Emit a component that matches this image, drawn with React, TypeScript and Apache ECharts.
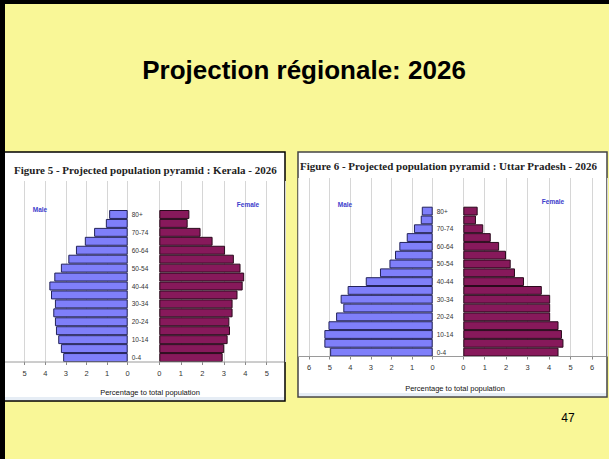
import React, { useEffect, useRef } from 'react';
import * as echarts from 'echarts';

const ageGroups = ['0-4', '5-9', '10-14', '15-19', '20-24', '25-29', '30-34', '35-39', '40-44', '45-49', '50-54', '55-59', '60-64', '65-69', '70-74', '75-79', '80+'];

const keralaMale = [3.13, 3.24, 3.37, 3.48, 3.53, 3.61, 3.53, 3.72, 3.8, 3.56, 3.24, 2.88, 2.51, 2.08, 1.63, 1.06, 0.9];
const keralaFemale = [2.95, 3.02, 3.18, 3.29, 3.26, 3.41, 3.41, 3.64, 3.88, 3.95, 3.78, 3.47, 3.06, 2.48, 1.92, 1.32, 1.4];

const upMale = [4.98, 5.26, 5.26, 5.06, 4.69, 4.34, 4.47, 4.13, 3.25, 2.56, 2.1, 1.83, 1.62, 1.26, 0.91, 0.58, 0.53];
const upFemale = [4.44, 4.67, 4.6, 4.44, 4.05, 4.05, 4.05, 3.66, 2.83, 2.41, 2.21, 1.99, 1.67, 1.28, 0.93, 0.59, 0.67];

const slideTitle = 'Projection régionale: 2026';
const figTitles = [
  'Figure 5 - Projected population pyramid : Kerala - 2026',
  'Figure 6 - Projected population pyramid : Uttar Pradesh - 2026',
];
const xAxisName = 'Percentage to total population';
const pageNumber = '47';

const SANS = '"Liberation Sans", Arial, sans-serif';
const SERIF = '"Liberation Serif", "Times New Roman", serif';
const MALE_COLOR = '#7f7ffa';
const FEMALE_COLOR = '#87195b';

type Layout = {
  panelX: number; panelY: number; panelW: number; panelH: number; panelStroke: string;
  maleLeft: number; zeroM: number; zeroF: number; right: number;
  maleMax: number; femaleMax: number;
  gridTop: number; barTop: number; axisY: number;
  titleX: number; titleY: number;
  maleLbl: [number, number]; femaleLbl: [number, number];
  nameY: number; nameX: number;
};

const layouts: Layout[] = [
  {
    panelX: 4, panelY: 152, panelW: 281, panelH: 249, panelStroke: '#000',
    maleLeft: 4, zeroM: 127.7, zeroF: 159.3, right: 285,
    maleMax: 6, femaleMax: 5.85,
    gridTop: 181, barTop: 210, axisY: 362,
    titleX: 14, titleY: 170,
    maleLbl: [40, 209], femaleLbl: [248, 204],
    nameY: 392, nameX: 150,
  },
  {
    panelX: 298, panelY: 152, panelW: 309, panelH: 245, panelStroke: '#444',
    maleLeft: 298, zeroM: 432.7, zeroF: 463.3, right: 607,
    maleMax: 6.54, femaleMax: 6.7,
    gridTop: 178, barTop: 206.7, axisY: 356.5,
    titleX: 300, titleY: 166,
    maleLbl: [345, 204], femaleLbl: [553, 201],
    nameY: 388, nameX: 455,
  },
];

const dataSets = [
  { male: keralaMale, female: keralaFemale },
  { male: upMale, female: upFemale },
];

function buildOption() {
  const grid: any[] = [];
  const xAxis: any[] = [];
  const yAxis: any[] = [];
  const series: any[] = [];
  const graphic: any[] = [];

  graphic.push({ type: 'rect', shape: { x: 0, y: 0, width: 5, height: 459 }, style: { fill: '#000' }, z: 200 });
  graphic.push({ type: 'rect', shape: { x: 0, y: 0, width: 609, height: 4 }, style: { fill: '#000' }, z: 200 });
  graphic.push({
    type: 'text', x: 304, y: 70, z: 100,
    style: { text: slideTitle, font: `bold 26px ${SANS}`, fill: '#000', align: 'center', verticalAlign: 'middle' },
  });
  graphic.push({
    type: 'text', x: 568, y: 418, z: 100,
    style: { text: pageNumber, font: `12px ${SANS}`, fill: '#000', align: 'center', verticalAlign: 'middle' },
  });

  layouts.forEach((L, i) => {
    const d = dataSets[i];
    graphic.push({
      type: 'rect', z: -10,
      shape: { x: L.panelX, y: L.panelY, width: L.panelW, height: L.panelH },
      style: { fill: '#fff', stroke: L.panelStroke, lineWidth: 1.5 },
    });
    graphic.push({
      type: 'rect', z: -9,
      shape: { x: L.panelX + 1, y: L.panelY + L.panelH - 4, width: L.panelW - 2, height: 3 },
      style: { fill: '#e6edf5' },
    });
    graphic.push({
      type: 'text', x: L.titleX, y: L.titleY, z: 100,
      style: { text: figTitles[i], font: `bold 11px ${SERIF}`, fill: '#222', align: 'left', verticalAlign: 'middle' },
    });
    graphic.push({
      type: 'text', x: L.maleLbl[0], y: L.maleLbl[1], z: 100,
      style: { text: 'Male', font: `bold 6.5px ${SANS}`, fill: '#3d3dcc', align: 'center', verticalAlign: 'middle' },
    });
    graphic.push({
      type: 'text', x: L.femaleLbl[0], y: L.femaleLbl[1], z: 100,
      style: { text: 'Female', font: `bold 6.5px ${SANS}`, fill: '#3d3dcc', align: 'center', verticalAlign: 'middle' },
    });
    graphic.push({
      type: 'text', x: L.nameX, y: L.nameY, z: 100,
      style: { text: xAxisName, font: `7.5px ${SANS}`, fill: '#111', align: 'center', verticalAlign: 'middle' },
    });
    graphic.push({
      type: 'line', z: 50,
      shape: { x1: L.panelX + 1, y1: L.axisY, x2: L.panelX + L.panelW - 1, y2: L.axisY },
      style: { stroke: '#9a9a9a', lineWidth: 1 },
    });

    const sides = [
      { left: L.maleLeft, width: L.zeroM - L.maleLeft, max: L.maleMax, inverse: true, values: d.male, color: MALE_COLOR, border: '#23235a' },
      { left: L.zeroF, width: L.right - L.zeroF, max: L.femaleMax, inverse: false, values: d.female, color: FEMALE_COLOR, border: '#2a0a1c' },
    ];
    sides.forEach((s, j) => {
      const ga = grid.length;
      grid.push({ left: s.left, top: L.gridTop, width: s.width, height: L.axisY - L.gridTop, containLabel: false });
      xAxis.push({
        gridIndex: ga, type: 'value', min: 0, max: s.max, interval: 1, inverse: s.inverse,
        axisLine: { show: false },
        axisTick: { show: true, length: 3, lineStyle: { color: '#888' } },
        axisLabel: { fontSize: 7.5, color: '#333', margin: 7, showMaxLabel: false, fontFamily: SANS },
        splitLine: { show: true, lineStyle: { color: '#d6d6d6', width: 1 } },
      });
      yAxis.push({ gridIndex: ga, type: 'value', show: false });
      const gb = grid.length;
      grid.push({ left: s.left, top: L.barTop, width: s.width, height: L.axisY - L.barTop, containLabel: false });
      xAxis.push({ gridIndex: gb, type: 'value', min: 0, max: s.max, inverse: s.inverse, show: false });
      yAxis.push({
        gridIndex: gb, type: 'category', data: ageGroups,
        show: j === 1,
        axisLine: { show: false }, axisTick: { show: false }, splitLine: { show: false },
        axisLabel: { show: j === 1, align: 'left', margin: L.zeroF - (L.zeroM + 4), fontSize: 6.5, color: '#333', interval: 1, fontFamily: SANS },
      });
      series.push({
        type: 'bar', xAxisIndex: gb, yAxisIndex: gb, data: s.values,
        barCategoryGap: '0%', silent: true,
        itemStyle: { color: s.color, borderColor: s.border, borderWidth: 1 },
      });
    });
  });

  return {
    animation: false,
    backgroundColor: '#f9f797',
    grid, xAxis, yAxis, series, graphic,
  };
}

export default function App() {
  const ref = useRef<HTMLDivElement>(null);
  useEffect(() => {
    if (!ref.current) return;
    const chart = echarts.init(ref.current, null, { renderer: 'svg' });
    chart.setOption(buildOption() as any);
    return () => chart.dispose();
  }, []);
  return <div ref={ref} style={{ position: 'fixed', left: 0, top: 0, width: 609, height: 459 }} />;
}
